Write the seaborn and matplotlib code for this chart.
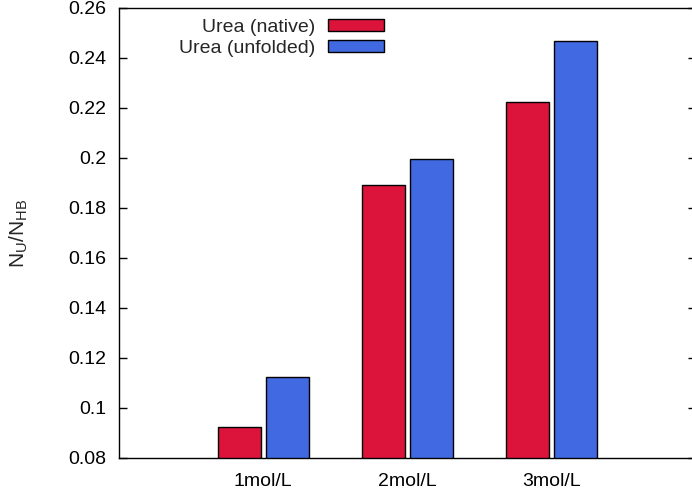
import matplotlib
matplotlib.use("Agg")
import matplotlib.pyplot as plt
import matplotlib.patches as mpatches
from matplotlib.ticker import FuncFormatter, MultipleLocator
import pandas as pd
import seaborn as sns

# Fraction of hydrogen bonds formed with urea, per concentration
concentrations = ["1mol/L", "2mol/L", "3mol/L"]
states = ["Urea (native)", "Urea (unfolded)"]
native = [0.0923, 0.1893, 0.2224]
unfolded = [0.1125, 0.1995, 0.2468]
colors = ["#DC143C", "#4169E1"]

df = pd.DataFrame({
    "conc": concentrations * 2,
    "state": [states[0]] * 3 + [states[1]] * 3,
    "value": native + unfolded,
})

sns.set_style("white")
plt.rcParams["font.family"] = ["Liberation Sans", "DejaVu Sans"]
plt.rcParams["mathtext.fontset"] = "custom"
plt.rcParams["mathtext.rm"] = "Liberation Sans"

fig = plt.figure(figsize=(6.92, 4.94), dpi=100)
ax = fig.add_axes([119 / 692, 1 - 458 / 494, (696 - 119) / 692, (458 - 8) / 494])

sns.barplot(data=df, x="conc", y="value", hue="state", order=concentrations,
            hue_order=states, palette=colors, width=0.667, gap=0.1,
            edgecolor="black", linewidth=1.0, saturation=1.0, legend=False,
            errorbar=None, ax=ax)

ax.set_xlim(-1, 3)
ax.set_ylim(0.08, 0.26)
ax.yaxis.set_major_locator(MultipleLocator(0.02))
ax.yaxis.set_major_formatter(FuncFormatter(lambda v, p: "%g" % round(v, 4)))

fs = 14
ax.tick_params(axis="y", which="both", direction="in", length=6, width=1,
               left=True, right=True, labelsize=fs, pad=9, colors="black")
ax.tick_params(axis="x", length=0, labelsize=fs, pad=11, colors="black")
for s in ax.spines.values():
    s.set_color("black")
    s.set_linewidth(1.0)

ax.set_xlabel("")
ax.set_ylabel(r"N$_\mathregular{U}$/N$_\mathregular{HB}$", fontsize=15)
ax.yaxis.set_label_coords(-0.154, 0.5)

handles = [mpatches.Patch(facecolor=c, edgecolor="black", linewidth=1.0, label=l)
           for c, l in zip(colors, states)]
ax.legend(handles=handles, loc="upper right", bbox_to_anchor=(384 / 692, 1 - 19 / 494),
          bbox_transform=fig.transFigure, frameon=False, markerfirst=False,
          fontsize=fs, handlelength=2.9, handleheight=0.57, handletextpad=0.62,
          labelspacing=0.2, borderpad=0, borderaxespad=0)

fig.savefig("out.png", dpi=100)
